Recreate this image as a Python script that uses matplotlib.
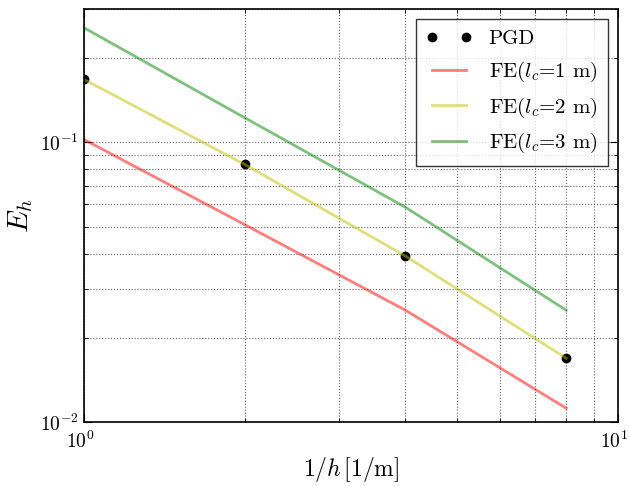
import matplotlib
matplotlib.use("Agg")
import matplotlib.pyplot as plt
from matplotlib.ticker import NullFormatter
from matplotlib.transforms import ScaledTranslation

plt.rcParams['font.family'] = 'serif'
plt.rcParams['font.serif'] = ['cmr10', 'DejaVu Serif']
plt.rcParams['mathtext.fontset'] = 'cm'
plt.rcParams['axes.formatter.use_mathtext'] = True

# data
inv_h = [1, 2, 4, 8]
pgd = [0.168, 0.0834, 0.0392, 0.0169]
fe_lc1 = [0.1024, 0.0508, 0.0251, 0.0112]
fe_lc2 = [0.168, 0.0834, 0.0392, 0.0169]
fe_lc3 = [0.257, 0.1225, 0.0586, 0.0251]

fig = plt.figure(figsize=(6.29, 4.86), dpi=100)
ax = fig.add_axes([0.1335, 0.1317, 0.849, 0.8498])

ax.loglog(inv_h, pgd, 'ko', markersize=6, label='PGD')
ax.loglog(inv_h, fe_lc1, color='r', alpha=0.5, lw=2, label=r'FE($l_c$=1 m)')
ax.loglog(inv_h, fe_lc2, color='y', alpha=0.5, lw=2, label=r'FE($l_c$=2 m)')
ax.loglog(inv_h, fe_lc3, color='g', alpha=0.5, lw=2, label=r'FE($l_c$=3 m)')

ax.set_xlim(1, 10)
ax.set_ylim(0.01, 0.3)
ax.xaxis.set_minor_formatter(NullFormatter())
ax.yaxis.set_minor_formatter(NullFormatter())
ax.grid(True, which='both', linestyle=':', color='0.4', lw=0.8)
ax.tick_params(which='both', direction='in', top=True, right=True, labelsize=14)
ax.tick_params(axis='x', pad=6)
ax.tick_params(which='major', length=6)
ax.tick_params(which='minor', length=3)
for s in ax.spines.values():
    s.set_linewidth(1.2)

# nudge x tick labels a bit left, like the original
shift = ScaledTranslation(-4 / 100, 0, fig.dpi_scale_trans)
for lab in ax.get_xticklabels():
    lab.set_transform(lab.get_transform() + shift)

ax.set_xlabel(r'$1/h\,[1/\mathrm{m}]$', fontsize=17, labelpad=2)
ax.set_ylabel(r'$E_h$', fontsize=21)

leg = ax.legend(loc='upper right', numpoints=2, fontsize=15, fancybox=False,
                handlelength=2.2, borderpad=0.5, labelspacing=0.55)
leg.get_frame().set_edgecolor('k')
leg.get_frame().set_linewidth(1.0)

fig.savefig('out.png', dpi=100)
